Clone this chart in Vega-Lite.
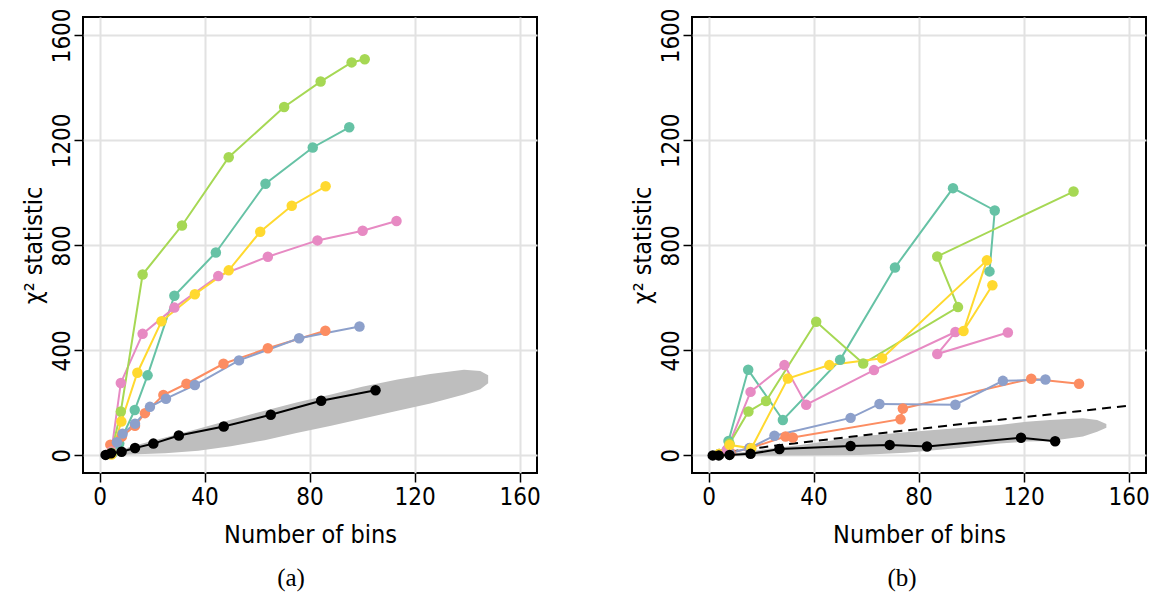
{
  "$schema": "https://vega.github.io/schema/vega-lite/v6.json",
  "background": "white",
  "padding": {"left": 20, "top": 6, "right": 5, "bottom": 5},
  "spacing": 87,
  "datasets": {
    "pts": [
      {"p":"a","s":"teal","i":0,"x":5,"y":8},{"p":"a","s":"teal","i":1,"x":7.5,"y":45},{"p":"a","s":"teal","i":2,"x":13.4,"y":173},{"p":"a","s":"teal","i":3,"x":18.3,"y":305},{"p":"a","s":"teal","i":4,"x":28.5,"y":608},{"p":"a","s":"teal","i":5,"x":44.3,"y":773},{"p":"a","s":"teal","i":6,"x":63.2,"y":1035},{"p":"a","s":"teal","i":7,"x":81.2,"y":1173},{"p":"a","s":"teal","i":8,"x":95.1,"y":1250},
      {"p":"a","s":"orange","i":0,"x":4.1,"y":41},{"p":"a","s":"orange","i":1,"x":8.5,"y":72},{"p":"a","s":"orange","i":2,"x":13.5,"y":113},{"p":"a","s":"orange","i":3,"x":17.3,"y":161},{"p":"a","s":"orange","i":4,"x":24.3,"y":230},{"p":"a","s":"orange","i":5,"x":33.1,"y":273},{"p":"a","s":"orange","i":6,"x":47.2,"y":349},{"p":"a","s":"orange","i":7,"x":64.1,"y":408},{"p":"a","s":"orange","i":8,"x":86,"y":475},
      {"p":"a","s":"blue","i":0,"x":4.5,"y":10},{"p":"a","s":"blue","i":1,"x":6.6,"y":50},{"p":"a","s":"blue","i":2,"x":8.8,"y":83},{"p":"a","s":"blue","i":3,"x":13.5,"y":121},{"p":"a","s":"blue","i":4,"x":19.2,"y":185},{"p":"a","s":"blue","i":5,"x":25.3,"y":216},{"p":"a","s":"blue","i":6,"x":36.3,"y":268},{"p":"a","s":"blue","i":7,"x":53.1,"y":362},{"p":"a","s":"blue","i":8,"x":76,"y":446},{"p":"a","s":"blue","i":9,"x":99,"y":491},
      {"p":"a","s":"pink","i":0,"x":4.5,"y":15},{"p":"a","s":"pink","i":1,"x":8.1,"y":276},{"p":"a","s":"pink","i":2,"x":16.4,"y":463},{"p":"a","s":"pink","i":3,"x":28.5,"y":563},{"p":"a","s":"pink","i":4,"x":45.2,"y":683},{"p":"a","s":"pink","i":5,"x":64.1,"y":757},{"p":"a","s":"pink","i":6,"x":83,"y":819},{"p":"a","s":"pink","i":7,"x":100.2,"y":856},{"p":"a","s":"pink","i":8,"x":113.1,"y":893},
      {"p":"a","s":"green","i":0,"x":4.5,"y":10},{"p":"a","s":"green","i":1,"x":8.1,"y":167},{"p":"a","s":"green","i":2,"x":16.4,"y":689},{"p":"a","s":"green","i":3,"x":31.4,"y":876},{"p":"a","s":"green","i":4,"x":49.2,"y":1136},{"p":"a","s":"green","i":5,"x":70.3,"y":1327},{"p":"a","s":"green","i":6,"x":84.2,"y":1424},{"p":"a","s":"green","i":7,"x":96,"y":1497},{"p":"a","s":"green","i":8,"x":101,"y":1509},
      {"p":"a","s":"yellow","i":0,"x":4.5,"y":3},{"p":"a","s":"yellow","i":1,"x":8.3,"y":129},{"p":"a","s":"yellow","i":2,"x":14.4,"y":315},{"p":"a","s":"yellow","i":3,"x":23.6,"y":511},{"p":"a","s":"yellow","i":4,"x":36.3,"y":614},{"p":"a","s":"yellow","i":5,"x":49.2,"y":705},{"p":"a","s":"yellow","i":6,"x":61.2,"y":852},{"p":"a","s":"yellow","i":7,"x":73.2,"y":951},{"p":"a","s":"yellow","i":8,"x":86.1,"y":1025},
      {"p":"a","s":"black","i":0,"x":2.3,"y":2},{"p":"a","s":"black","i":1,"x":4.4,"y":8},{"p":"a","s":"black","i":2,"x":8.4,"y":14},{"p":"a","s":"black","i":3,"x":13.5,"y":28},{"p":"a","s":"black","i":4,"x":20.5,"y":45},{"p":"a","s":"black","i":5,"x":30.2,"y":76},{"p":"a","s":"black","i":6,"x":47.3,"y":110},{"p":"a","s":"black","i":7,"x":65.2,"y":155},{"p":"a","s":"black","i":8,"x":84.4,"y":208},{"p":"a","s":"black","i":9,"x":105.1,"y":248},
      {"p":"b","s":"teal","i":0,"x":4,"y":5},{"p":"b","s":"teal","i":1,"x":7.6,"y":55},{"p":"b","s":"teal","i":2,"x":15.1,"y":326},{"p":"b","s":"teal","i":3,"x":28.3,"y":135},{"p":"b","s":"teal","i":4,"x":50.1,"y":364},{"p":"b","s":"teal","i":5,"x":71,"y":716},{"p":"b","s":"teal","i":6,"x":93.1,"y":1018},{"p":"b","s":"teal","i":7,"x":109,"y":933},{"p":"b","s":"teal","i":8,"x":107,"y":701},
      {"p":"b","s":"orange","i":0,"x":4,"y":3},{"p":"b","s":"orange","i":1,"x":8.4,"y":10},{"p":"b","s":"orange","i":2,"x":15.6,"y":27},{"p":"b","s":"orange","i":3,"x":29.3,"y":72},{"p":"b","s":"orange","i":4,"x":32.1,"y":68},{"p":"b","s":"orange","i":5,"x":73.1,"y":138},{"p":"b","s":"orange","i":6,"x":74,"y":179},{"p":"b","s":"orange","i":7,"x":122.9,"y":292},{"p":"b","s":"orange","i":8,"x":141.1,"y":273},
      {"p":"b","s":"blue","i":0,"x":4,"y":3},{"p":"b","s":"blue","i":1,"x":8,"y":8},{"p":"b","s":"blue","i":2,"x":15.6,"y":28},{"p":"b","s":"blue","i":3,"x":25.1,"y":75},{"p":"b","s":"blue","i":4,"x":54.1,"y":143},{"p":"b","s":"blue","i":5,"x":65.1,"y":196},{"p":"b","s":"blue","i":6,"x":94,"y":193},{"p":"b","s":"blue","i":7,"x":112.1,"y":284},{"p":"b","s":"blue","i":8,"x":128.3,"y":289},
      {"p":"b","s":"pink","i":0,"x":4,"y":5},{"p":"b","s":"pink","i":1,"x":7,"y":22},{"p":"b","s":"pink","i":2,"x":16,"y":242},{"p":"b","s":"pink","i":3,"x":28.9,"y":344},{"p":"b","s":"pink","i":4,"x":37.2,"y":193},{"p":"b","s":"pink","i":5,"x":63,"y":325},{"p":"b","s":"pink","i":6,"x":94,"y":470},{"p":"b","s":"pink","i":7,"x":87.1,"y":386},{"p":"b","s":"pink","i":8,"x":114,"y":468},
      {"p":"b","s":"green","i":0,"x":4,"y":5},{"p":"b","s":"green","i":1,"x":8,"y":45},{"p":"b","s":"green","i":2,"x":15.2,"y":167},{"p":"b","s":"green","i":3,"x":21.9,"y":207},{"p":"b","s":"green","i":4,"x":41,"y":509},{"p":"b","s":"green","i":5,"x":58.9,"y":350},{"p":"b","s":"green","i":6,"x":95,"y":565},{"p":"b","s":"green","i":7,"x":87.1,"y":758},{"p":"b","s":"green","i":8,"x":139,"y":1005},
      {"p":"b","s":"yellow","i":0,"x":4,"y":5},{"p":"b","s":"yellow","i":1,"x":8,"y":40},{"p":"b","s":"yellow","i":2,"x":16.3,"y":27},{"p":"b","s":"yellow","i":3,"x":30.2,"y":293},{"p":"b","s":"yellow","i":4,"x":46,"y":344},{"p":"b","s":"yellow","i":5,"x":66.1,"y":370},{"p":"b","s":"yellow","i":6,"x":106,"y":743},{"p":"b","s":"yellow","i":7,"x":97.1,"y":474},{"p":"b","s":"yellow","i":8,"x":108.1,"y":648},
      {"p":"b","s":"black","i":0,"x":1.6,"y":0},{"p":"b","s":"black","i":1,"x":3.9,"y":0},{"p":"b","s":"black","i":2,"x":8,"y":2},{"p":"b","s":"black","i":3,"x":16,"y":6},{"p":"b","s":"black","i":4,"x":27,"y":24},{"p":"b","s":"black","i":5,"x":54.1,"y":36},{"p":"b","s":"black","i":6,"x":69,"y":40},{"p":"b","s":"black","i":7,"x":83.2,"y":34},{"p":"b","s":"black","i":8,"x":119,"y":67},{"p":"b","s":"black","i":9,"x":132,"y":54}
    ],
    "band": [
      {"p":"a","x":3,"lo":0,"hi":2},{"p":"a","x":12,"lo":3,"hi":34},{"p":"a","x":25,"lo":8,"hi":68},{"p":"a","x":37.6,"lo":18,"hi":102},{"p":"a","x":50,"lo":35,"hi":136},{"p":"a","x":62.9,"lo":58,"hi":170},{"p":"a","x":75,"lo":85,"hi":202},{"p":"a","x":88.2,"lo":113,"hi":232},{"p":"a","x":100,"lo":140,"hi":262},{"p":"a","x":113.5,"lo":170,"hi":289},{"p":"a","x":126,"lo":198,"hi":310},{"p":"a","x":138.8,"lo":232,"hi":326},{"p":"a","x":145,"lo":252,"hi":322},{"p":"a","x":148,"lo":275,"hi":305},
      {"p":"b","x":6,"lo":0,"hi":3},{"p":"b","x":20,"lo":0,"hi":22},{"p":"b","x":35,"lo":0,"hi":40},{"p":"b","x":57.5,"lo":2,"hi":72},{"p":"b","x":75,"lo":10,"hi":88},{"p":"b","x":95.5,"lo":28,"hi":104},{"p":"b","x":110.8,"lo":45,"hi":116},{"p":"b","x":121,"lo":53,"hi":128},{"p":"b","x":130,"lo":55,"hi":135},{"p":"b","x":142.6,"lo":72,"hi":142},{"p":"b","x":148,"lo":90,"hi":135},{"p":"b","x":151.5,"lo":105,"hi":120}
    ],
    "crit": [
      {"x":8,"y":14.1},{"x":16,"y":25},{"x":24,"y":35.2},{"x":40,"y":54.6},{"x":60,"y":77.9},{"x":80,"y":100.7},{"x":100,"y":123.2},{"x":120,"y":145.5},{"x":140,"y":167.5},{"x":160,"y":189.5}
    ]
  },
  "config": {
    "view": {"stroke": "black", "strokeWidth": 2},
    "axis": {
      "grid": true, "gridColor": "#e2e2e2", "gridWidth": 2,
      "domain": false, "tickColor": "black", "tickWidth": 1.5, "tickSize": 9,
      "labelFont": "DejaVu Sans Condensed, Liberation Sans", "labelFontSize": 24, "labelColor": "black",
      "titleFont": "DejaVu Sans Condensed, Liberation Sans", "titleFontSize": 25, "titleFontWeight": "normal", "titleColor": "black",
      "format": "d"
    },
    "axisY": {"labelAngle": -90, "labelAlign": "center", "labelBaseline": "bottom", "labelPadding": 0, "titlePadding": 4},
    "axisX": {"labelPadding": 3, "titlePadding": 13},
    "title": {"font": "Liberation Serif", "fontSize": 25, "fontWeight": "normal", "color": "black"}
  },
  "hconcat": [
    {
      "width": 454, "height": 456,
      "title": {"text": "(a)", "orient": "bottom", "dx": -19, "offset": 19},
      "layer": [
        {
          "data": {"name": "band"},
          "transform": [{"filter": "datum.p === 'a'"}],
          "mark": {"type": "area", "color": "#bebebe", "opacity": 1},
          "encoding": {
            "x": {"field": "x", "type": "quantitative", "scale": {"domain": [-6.3, 166.6], "nice": false, "zero": false}, "axis": {"values": [0,40,80,120,160], "title": "Number of bins"}},
            "y": {"field": "hi", "type": "quantitative", "scale": {"domain": [-67, 1670], "nice": false, "zero": false}, "axis": {"values": [0,400,800,1200,1600], "title": "χ² statistic"}},
            "y2": {"field": "lo"}
          }
        },
        {
          "data": {"name": "pts"},
          "transform": [{"filter": "datum.p === 'a' && datum.s !== 'black'"}],
          "mark": {"type": "line", "strokeWidth": 2, "point": {"filled": true, "size": 110, "opacity": 1}},
          "encoding": {
            "x": {"field": "x", "type": "quantitative"},
            "y": {"field": "y", "type": "quantitative"},
            "order": {"field": "i", "type": "quantitative"},
            "color": {"field": "s", "type": "nominal", "legend": null, "scale": {"domain": ["teal","orange","blue","pink","green","yellow","black"], "range": ["#66C2A5","#FC8D62","#8DA0CB","#E78AC3","#A6D854","#FFD92F","#000000"]}}
          }
        },
        {
          "data": {"name": "pts"},
          "transform": [{"filter": "datum.p === 'a' && datum.s === 'black'"}],
          "mark": {"type": "line", "strokeWidth": 2, "color": "black", "point": {"filled": true, "size": 110, "opacity": 1, "color": "black"}},
          "encoding": {
            "x": {"field": "x", "type": "quantitative"},
            "y": {"field": "y", "type": "quantitative"},
            "order": {"field": "i", "type": "quantitative"}
          }
        }
      ]
    },
    {
      "width": 454, "height": 456,
      "title": {"text": "(b)", "orient": "bottom", "dx": -17, "offset": 19},
      "layer": [
        {
          "data": {"name": "band"},
          "transform": [{"filter": "datum.p === 'b'"}],
          "mark": {"type": "area", "color": "#bebebe", "opacity": 1},
          "encoding": {
            "x": {"field": "x", "type": "quantitative", "scale": {"domain": [-6.3, 166.6], "nice": false, "zero": false}, "axis": {"values": [0,40,80,120,160], "title": "Number of bins"}},
            "y": {"field": "hi", "type": "quantitative", "scale": {"domain": [-67, 1670], "nice": false, "zero": false}, "axis": {"values": [0,400,800,1200,1600], "title": "χ² statistic"}},
            "y2": {"field": "lo"}
          }
        },
        {
          "data": {"name": "crit"},
          "mark": {"type": "line", "color": "black", "strokeWidth": 2, "strokeDash": [9, 6]},
          "encoding": {
            "x": {"field": "x", "type": "quantitative"},
            "y": {"field": "y", "type": "quantitative"}
          }
        },
        {
          "data": {"name": "pts"},
          "transform": [{"filter": "datum.p === 'b' && datum.s !== 'black'"}],
          "mark": {"type": "line", "strokeWidth": 2, "point": {"filled": true, "size": 110, "opacity": 1}},
          "encoding": {
            "x": {"field": "x", "type": "quantitative"},
            "y": {"field": "y", "type": "quantitative"},
            "order": {"field": "i", "type": "quantitative"},
            "color": {"field": "s", "type": "nominal", "legend": null, "scale": {"domain": ["teal","orange","blue","pink","green","yellow","black"], "range": ["#66C2A5","#FC8D62","#8DA0CB","#E78AC3","#A6D854","#FFD92F","#000000"]}}
          }
        },
        {
          "data": {"name": "pts"},
          "transform": [{"filter": "datum.p === 'b' && datum.s === 'black'"}],
          "mark": {"type": "line", "strokeWidth": 2, "color": "black", "point": {"filled": true, "size": 110, "opacity": 1, "color": "black"}},
          "encoding": {
            "x": {"field": "x", "type": "quantitative"},
            "y": {"field": "y", "type": "quantitative"},
            "order": {"field": "i", "type": "quantitative"}
          }
        }
      ]
    }
  ]
}
